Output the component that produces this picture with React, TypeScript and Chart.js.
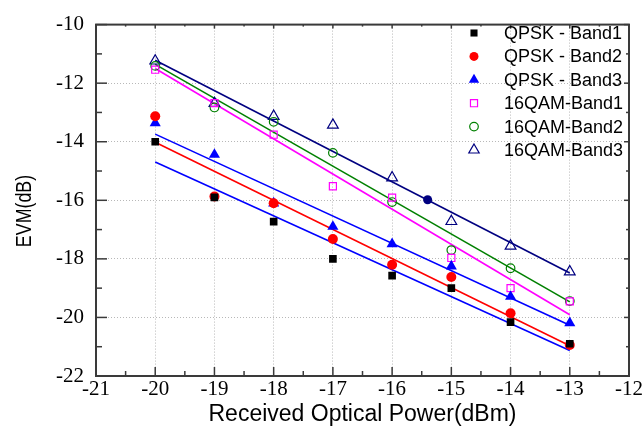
import React, { useEffect, useRef } from "react";
import { Chart, registerables } from "chart.js";

Chart.register(...registerables);

// ---- data ----
const powerDbm = [-20, -19, -18, -17, -16, -15, -14, -13];
const qpskBand1 = [-14.0, -15.9, -16.73, -18.0, -18.57, -19.0, -20.16, -20.9];
const qpskBand2 = [-13.13, -15.87, -16.1, -17.32, -18.2, -18.62, -19.86, -20.94];
const qpskBand3 = [-13.36, -14.44, -16.1, -16.9, -17.49, -18.25, -19.29, -20.19];
const qam16Band1 = [-11.54, -12.68, -13.76, -15.52, -15.91, -17.97, -19.0, -19.45];
const qam16Band2 = [-11.41, -12.83, -13.32, -14.38, -16.06, -17.7, -18.32, -19.44];
const qam16Band3 = [-11.24, -12.69, -13.13, -13.43, -15.23, -16.72, -17.56, -18.44];
const extraPointX = [-15.4];
const extraPointY = [-15.98];

// fitted lines: values at -20 dBm and -13 dBm
const fitX = [-20, -13];
const fitQam16Band3 = [-11.22, -18.48];
const fitQam16Band2 = [-11.36, -19.47];
const fitQam16Band1 = [-11.5, -19.91];
const fitQpskBand3 = [-13.74, -20.27];
const fitQpskBand2 = [-14.02, -20.97];
const fitQpskBand1 = [-14.69, -21.13];

const legendLabels = [
  "QPSK - Band1",
  "QPSK - Band2",
  "QPSK - Band3",
  "16QAM-Band1",
  "16QAM-Band2",
  "16QAM-Band3",
];

const xTitle = "Received Optical Power(dBm)";
const yTitle = "EVM(dB)";

const xMin = -21, xMax = -12, yMin = -22, yMax = -10;

type Marker = { style: string; color: string; filled: boolean; radius: number; legendR: number };

const markers: Marker[] = [
  { style: "rect", color: "#000000", filled: true, radius: 5.4, legendR: 5 },
  { style: "circle", color: "#ff0000", filled: true, radius: 5, legendR: 4.5 },
  { style: "triangle", color: "#0000ff", filled: true, radius: 6.4, legendR: 6 },
  { style: "rect", color: "#ff00ff", filled: false, radius: 5, legendR: 5 },
  { style: "circle", color: "#008000", filled: false, radius: 4.3, legendR: 4.3 },
  { style: "triangle", color: "#000080", filled: false, radius: 6.2, legendR: 6 },
];

const SANS = "'Liberation Sans', Arial, sans-serif";
const SERIF = "'Liberation Serif', 'Times New Roman', serif";

function drawMarker(ctx: CanvasRenderingContext2D, m: Marker, x: number, y: number, r: number) {
  ctx.beginPath();
  if (m.style === "rect") {
    const s = Math.SQRT1_2 * r;
    ctx.rect(x - s, y - s, 2 * s, 2 * s);
  } else if (m.style === "circle") {
    ctx.arc(x, y, r, 0, Math.PI * 2);
  } else {
    ctx.moveTo(x, y - r);
    ctx.lineTo(x + r * Math.sin(Math.PI / 3), y + r * 0.5);
    ctx.lineTo(x - r * Math.sin(Math.PI / 3), y + r * 0.5);
    ctx.closePath();
  }
  if (m.filled) {
    ctx.fillStyle = m.color;
    ctx.fill();
  } else {
    ctx.lineWidth = 1.2;
    ctx.strokeStyle = m.color;
    ctx.stroke();
  }
}

const decorPlugin = {
  id: "decor",
  afterDraw(chart: any) {
    const ctx: CanvasRenderingContext2D = chart.ctx;
    const { left, right, top, bottom } = chart.chartArea;
    const xs = chart.scales.x;
    const ys = chart.scales.y;
    ctx.save();
    ctx.strokeStyle = "#3a3a3a";
    const seg = (a: number, b: number, c: number, d: number) => {
      ctx.beginPath();
      ctx.moveTo(a, b);
      ctx.lineTo(c, d);
      ctx.stroke();
    };
    ctx.lineWidth = 1.5;
    for (let i = 0; i <= (xMax - xMin) * 2; i++) {
      const v = xMin + i * 0.5;
      const px = xs.getPixelForValue(v);
      const major = i % 2 === 0;
      seg(px, bottom, px, bottom - (major ? 9 : 5));
      seg(px, top, px, top + (major ? 4 : 2));
    }
    for (let v = yMin; v <= yMax; v += 1) {
      const py = ys.getPixelForValue(v);
      const major = v % 2 === 0;
      seg(left, py, left + (major ? 11 : 6), py);
      seg(right, py, right - (major ? 5 : 3), py);
    }
    ctx.lineWidth = 2;
    ctx.strokeRect(left, top, right - left, bottom - top);

    // titles
    ctx.fillStyle = "#000";
    ctx.textAlign = "center";
    ctx.textBaseline = "middle";
    ctx.save();
    ctx.font = `23px ${SANS}`;
    ctx.translate((left + right) / 2, 415);
    ctx.fillText(xTitle, 0, 0);
    ctx.restore();
    ctx.save();
    ctx.font = `22px ${SANS}`;
    ctx.translate(25, 211);
    ctx.rotate(-Math.PI / 2);
    ctx.scale(0.81, 1);
    ctx.fillText(yTitle, 0, 0);
    ctx.restore();

    // legend
    for (let i = 0; i < legendLabels.length; i++) {
      const cy = 33 + i * 23.4;
      drawMarker(ctx, markers[i], 474, cy, markers[i].legendR);
      ctx.save();
      ctx.fillStyle = "#000";
      ctx.font = `18px ${SANS}`;
      ctx.textAlign = "left";
      ctx.textBaseline = "middle";
      ctx.translate(504, cy + 1);
      ctx.fillText(legendLabels[i], 0, 0);
      ctx.restore();
    }
    ctx.restore();
  },
};

export default function App() {
  const ref = useRef<HTMLCanvasElement>(null);
  useEffect(() => {
    if (!ref.current) return;
    const pts = (xv: number[], yv: number[]) => xv.map((x, i) => ({ x, y: yv[i] }));
    const seriesY = [qpskBand1, qpskBand2, qpskBand3, qam16Band1, qam16Band2, qam16Band3];
    const scatterSets: any[] = seriesY.map((ys, i) => {
      const m = markers[i];
      return {
        type: "scatter",
        label: legendLabels[i],
        data: pts(powerDbm, ys),
        pointStyle: m.style,
        pointRadius: m.radius,
        pointBackgroundColor: m.filled ? m.color : "rgba(0,0,0,0)",
        pointBorderColor: m.color,
        pointBorderWidth: m.filled ? 0 : 1.2,
        showLine: false,
        order: 0,
      };
    });
    scatterSets.push({
      type: "scatter",
      label: "extra",
      data: pts(extraPointX, extraPointY),
      pointStyle: "circle",
      pointRadius: 4.5,
      pointBackgroundColor: "#000080",
      pointBorderWidth: 0,
      showLine: false,
      order: 0,
    });
    const fits: [number[], string][] = [
      [fitQpskBand1, "#0000ff"],
      [fitQpskBand2, "#ff0000"],
      [fitQpskBand3, "#0000ff"],
      [fitQam16Band1, "#ff00ff"],
      [fitQam16Band2, "#008000"],
      [fitQam16Band3, "#000080"],
    ];
    const lineSets = fits.map(([yv, c]) => ({
      type: "line",
      label: "fit",
      data: pts(fitX, yv),
      borderColor: c,
      borderWidth: 1.6,
      pointRadius: 0,
      fill: false,
      tension: 0,
      order: 1,
    }));

    const chart = new Chart(ref.current, {
      type: "scatter",
      data: { datasets: [...scatterSets, ...lineSets] as any },
      options: {
        animation: false,
        responsive: false,
        layout: { padding: { left: 0, right: 11, top: 16, bottom: 0 } },
        plugins: { legend: { display: false }, tooltip: { enabled: false } },
        scales: {
          x: {
            type: "linear",
            min: xMin,
            max: xMax,
            ticks: {
              stepSize: 1,
              color: "#000",
              font: { family: SERIF, size: 21 },
              padding: 1,
              maxRotation: 0,
            },
            grid: { color: "#b8b8b8", lineWidth: 1, drawTicks: false },
            border: { display: false, dash: [1, 2] },
            afterFit: (s: any) => {
              s.height = 56;
            },
          },
          y: {
            type: "linear",
            min: yMin,
            max: yMax,
            ticks: {
              stepSize: 2,
              color: "#000",
              font: { family: SERIF, size: 21 },
              padding: 12,
            },
            grid: { color: "#b8b8b8", lineWidth: 1, drawTicks: false },
            border: { display: false, dash: [1, 2] },
            afterFit: (s: any) => {
              s.width = 96;
            },
          },
        },
      } as any,
      plugins: [decorPlugin],
    });
    return () => chart.destroy();
  }, []);
  return (
    <div style={{ position: "fixed", left: 0, top: 0, width: 644, height: 432, background: "#fff" }}>
      <canvas ref={ref} width={644} height={432} />
    </div>
  );
}
